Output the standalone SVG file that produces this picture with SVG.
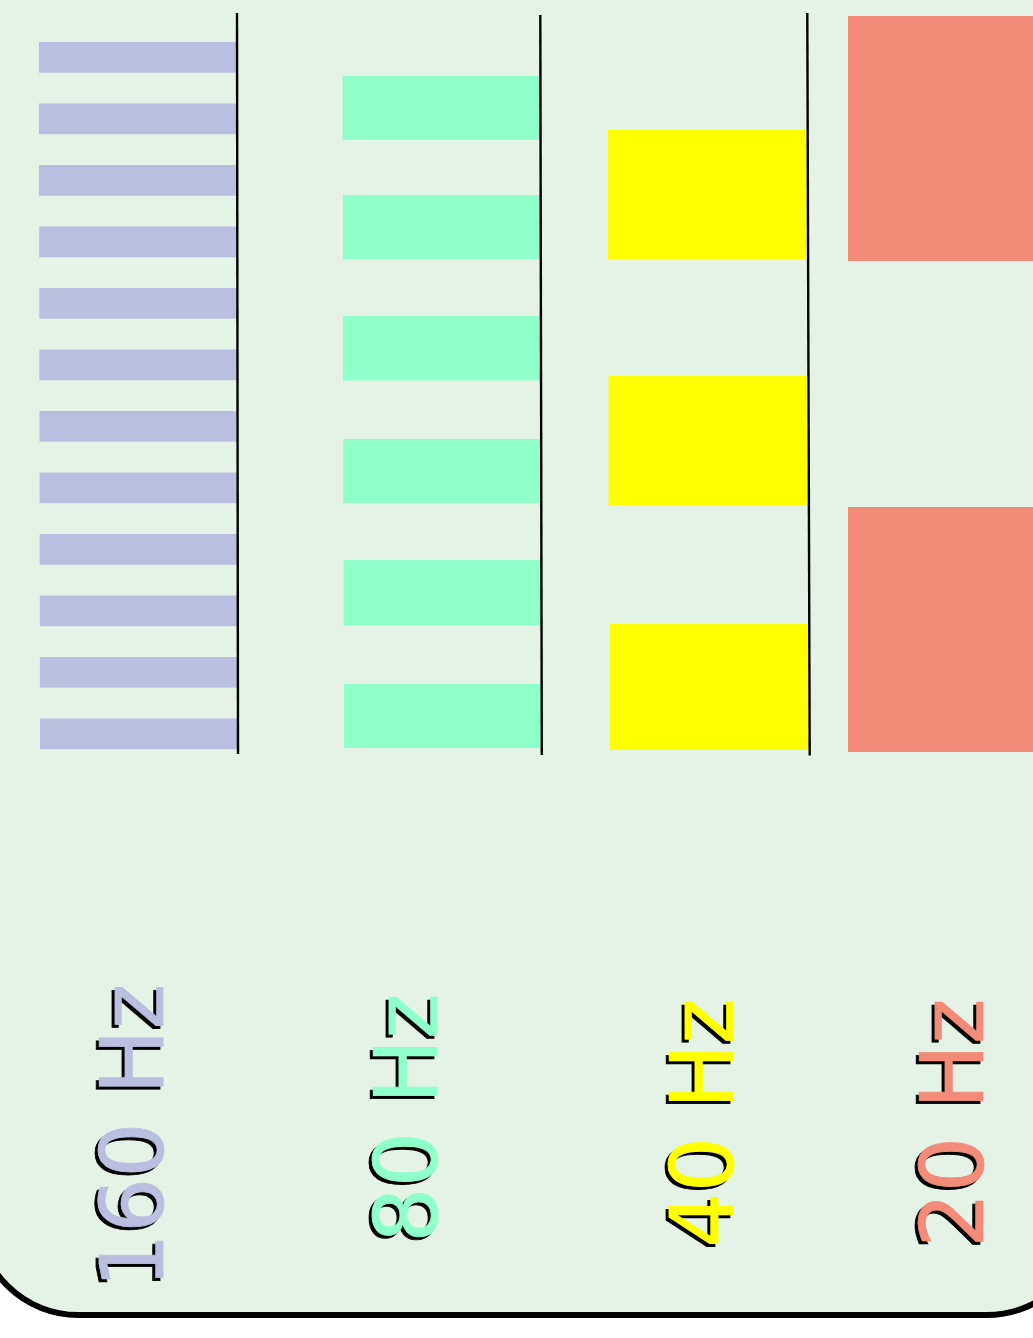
<svg xmlns="http://www.w3.org/2000/svg" width="1033" height="1338" viewBox="0 0 1033 1338">
<style>
.bg{fill:#e5f3e6;stroke:#000;stroke-width:6}
.c1{fill:#bbbfdf}
.c2{fill:#8fffcc}
.c3{fill:#ffff00}
.c4{fill:#f28b78}
.axis{stroke:#000;stroke-width:2.4;fill:none}
.lbl{font-family:"DejaVu Sans",sans-serif;font-size:87px;text-anchor:middle;stroke-width:0.8}
.sh{fill:#000;stroke:#000}
.l1{fill:#bbbfdf;stroke:#bbbfdf}
.l2{fill:#8fffcc;stroke:#8fffcc}
.l3{fill:#ffff00;stroke:#ffff00}
.l4{fill:#f28b78;stroke:#f28b78}
</style>
<rect class="bg" x="-22" y="-120" width="1109" height="1435" rx="100" ry="100"/>
<g id="col160">
<rect class="c1" x="39" y="42" width="197.5" height="30.7"/>
<rect class="c1" x="39" y="103.5" width="197.5" height="30.7"/>
<rect class="c1" x="39" y="165" width="197.5" height="30.7"/>
<rect class="c1" x="39.2" y="226.5" width="197.5" height="30.7"/>
<rect class="c1" x="39.3" y="288" width="197.5" height="30.7"/>
<rect class="c1" x="39.4" y="349.5" width="197.5" height="30.7"/>
<rect class="c1" x="39.5" y="411" width="197.5" height="30.7"/>
<rect class="c1" x="39.6" y="472.5" width="197.5" height="30.7"/>
<rect class="c1" x="39.7" y="534" width="197.5" height="30.7"/>
<rect class="c1" x="39.8" y="595.5" width="197.5" height="30.7"/>
<rect class="c1" x="39.9" y="657" width="197.5" height="30.7"/>
<rect class="c1" x="40" y="718.5" width="197.5" height="30.7"/>
<text class="lbl sh" transform="translate(160,1139) rotate(-90)">160 Hz</text>
<text class="lbl l1" transform="translate(163,1136) rotate(-90)">160 Hz</text>
</g>
<g id="col80">
<rect class="c2" x="342.5" y="76" width="197.5" height="63.7"/>
<rect class="c2" x="342.8" y="195" width="197.5" height="64"/>
<rect class="c2" x="343.1" y="316" width="197.5" height="64.5"/>
<rect class="c2" x="343.4" y="439" width="197.5" height="64"/>
<rect class="c2" x="343.7" y="560" width="197.5" height="65.5"/>
<rect class="c2" x="344" y="684" width="197.5" height="64"/>
<text class="lbl sh" transform="translate(434,1121) rotate(-90)">80 Hz</text>
<text class="lbl l2" transform="translate(437,1118) rotate(-90)">80 Hz</text>
</g>
<g id="col40">
<rect class="c3" x="608" y="130" width="198.5" height="129"/>
<rect class="c3" x="608.5" y="376" width="198.5" height="129"/>
<rect class="c3" x="610" y="624" width="198" height="126"/>
<text class="lbl sh" transform="translate(730,1126) rotate(-90)">40 Hz</text>
<text class="lbl l3" transform="translate(733,1123) rotate(-90)">40 Hz</text>
</g>
<g id="col20">
<rect class="c4" x="848" y="16" width="200" height="245"/>
<rect class="c4" x="848" y="507" width="200" height="245"/>
<text class="lbl sh" transform="translate(980,1126) rotate(-90)">20 Hz</text>
<text class="lbl l4" transform="translate(983,1123) rotate(-90)">20 Hz</text>
</g>
<g id="connectors">
<line class="axis" x1="237" y1="13" x2="238" y2="754"/>
<line class="axis" x1="540.3" y1="15" x2="541.8" y2="755"/>
<line class="axis" x1="807.3" y1="13" x2="809.7" y2="755.5"/>
</g>
</svg>
